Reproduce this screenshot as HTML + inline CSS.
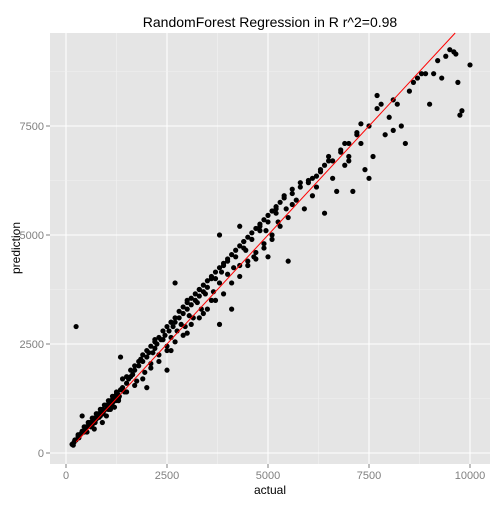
<!DOCTYPE html>
<html><head><meta charset="utf-8"><style>
body{margin:0;background:#fff;}
svg text{font-family:"Liberation Sans",sans-serif;}
</style></head><body>
<svg id="chart" width="504" height="504">
<rect x="0" y="0" width="504" height="504" fill="#fff"/>
<rect x="50" y="33" width="440" height="431" fill="#E5E5E5"/>
<g id="grid"></g>
<g id="ticks"></g>
<g id="pts"></g>
<g id="line"></g>
<text x="270" y="27" text-anchor="middle" font-size="14" fill="#000">RandomForest Regression in R r^2=0.98</text>
<text x="270" y="494" text-anchor="middle" font-size="12" fill="#000">actual</text>
<text transform="translate(20,248) rotate(-90)" text-anchor="middle" font-size="12" fill="#000">prediction</text>
</svg>
<script>
const xTicks=[0,2500,5000,7500,10000];
const yTicks=[0,2500,5000,7500];
const actual=[150,200,250,300,350,400,450,500,550,600,650,700,750,800,850,900,950,1000,1050,1100,1150,1200,1250,1300,1350,1400,1450,1500,250,400,700,900,1000,1200,180,220,320,380,480,520,580,620,680,720,780,820,880,920,1020,1080,1130,1180,1230,1280,1320,
1600,1700,1750,1800,1900,1950,2000,2050,2100,2200,2250,2300,2400,2450,2500,2550,2600,2700,2750,2800,2900,2950,3000,3100,3150,3200,3300,3350,3400,3500,3600,3700,3800,3900,4000,1350,2000,2500,3800,4100,2700,1650,1850,2150,2350,2650,2850,3050,3250,3450,3650,3850,1550,2600,3000,3400,
4200,4300,4400,4500,4600,4700,4800,4900,5000,5100,5200,5300,5400,5500,5600,5700,5800,5000,5500,6000,4300,3800,4150,4450,4650,4950,5250,5450,5900,
6100,6200,6300,6400,6500,6600,6700,6800,7000,7200,7300,7400,7600,7500,7700,7800,7900,8000,8100,8200,8300,8400,8700,8800,9000,9200,9300,9600,9650,9700,9750,9800,10000,9100,7000,7500,7100,8500,8600,6900,6300,
300,450,550,650,750,850,950,1050,1150,1250,1400,1500,1600,1700,1800,1900,2000,2100,2200,2300,2400,2500,2600,2700,2800,2900,3000,3100,3200,3300,3400,3500,3600,3700,3800,3900,4000,4100,4200,4300,4400,4500,4600,4700,4800,4900,5000,5100,5200,5300,5400,5600,5800,6000,6200,6400,6600,6800,7000,7200,
1100,1300,1500,1700,1900,2100,2300,2500,2700,2900,3100,3300,3500,3700,3900,4100,4300,4500,4700,4900,5100,2200,2600,3000,3300,3600,4000,4400,4800,5200,5600,6100,6500,6900,7300,7700,8100,8900,9400,9500];
const prediction=[200,250,300,380,420,500,480,600,620,700,650,800,780,900,850,1000,980,1100,1000,1200,1150,1300,1350,1250,1450,1500,1400,1600,2900,850,550,700,850,1050,180,300,350,450,550,480,650,600,750,700,850,820,950,900,1050,1150,1100,1250,1200,1350,1300,
1750,1900,1650,2000,2100,1850,2200,2300,2050,2400,2500,2250,2600,2700,2450,2800,2650,3000,2800,3100,3200,2900,3300,3400,3100,3500,3600,3300,3700,3800,3500,4000,3900,4300,4100,2200,1500,1900,2950,3300,3900,1800,2150,2300,2600,2900,2950,3150,3450,3650,3700,4150,1700,2350,2750,3200,
4500,4300,4700,4400,4900,4600,5100,4800,5300,5000,5500,5200,5900,5400,5700,5800,6200,4500,4400,6200,5200,5000,4250,4650,4500,5100,5300,5600,5600,
5900,6100,6500,5500,6800,6300,6000,6900,6700,7300,7100,6500,6800,7500,8200,8000,7300,7700,7400,8000,7500,7100,8600,8700,8000,9000,8600,9200,9150,8500,7750,7850,8900,8700,6800,6300,6000,8300,8500,6600,6450,
420,600,700,800,900,1000,1100,1200,1300,1400,1700,1750,1900,2000,2100,2250,2350,2450,2550,2650,2800,2900,3000,3100,3250,3350,3450,3550,3650,3750,3850,3950,4050,4150,4250,4350,4450,4550,4650,4750,4850,4950,5050,5150,5250,5350,5450,5550,5650,5750,5850,6050,6100,6250,6350,6600,6700,6950,7100,7350,
1000,1200,1400,1550,1700,1950,2100,2350,2550,2700,2950,3100,3300,3500,3650,3900,4050,4300,4450,4700,4900,2600,3000,3500,3750,4000,4400,4850,5200,5600,5950,6300,6700,7100,7550,7900,8100,8700,9100,9250];
const X0=66,XS=(470-66)/10000,Y0=453,YS=(453-344)/2500;
const sx=v=>X0+v*XS, sy=v=>Y0-v*YS;
const NS="http://www.w3.org/2000/svg";
function mk(t,a,p){const e=document.createElementNS(NS,t);for(const k in a)e.setAttribute(k,a[k]);p.appendChild(e);return e;}
const grid=document.getElementById('grid'),ticks=document.getElementById('ticks');
for(let i=0;i<xTicks.length;i++){
  const v=xTicks[i];
  if(i>0){const m=(xTicks[i]+xTicks[i-1])/2;const g=mk('line',{x1:sx(m),x2:sx(m),y1:33,y2:464,stroke:'#F2F2F2','stroke-width':0.6},grid);

}
  const l=mk('line',{x1:sx(v),x2:sx(v),y1:33,y2:464,stroke:'#fff','stroke-width':1.1},grid);
  
  
  mk('line',{x1:sx(v),x2:sx(v),y1:464,y2:468,stroke:'#7F7F7F'},ticks);
  const t=mk('text',{x:sx(v),y:479,'text-anchor':'middle','font-size':11,fill:'#7F7F7F'},ticks);t.textContent=v;
  
  
}
for(let i=0;i<yTicks.length;i++){
  const v=yTicks[i];
  const m=v+1250;{const g=mk('line',{x1:50,x2:490,y1:sy(m),y2:sy(m),stroke:'#F2F2F2','stroke-width':0.6},grid);

}
  const l=mk('line',{x1:50,x2:490,y1:sy(v),y2:sy(v),stroke:'#fff','stroke-width':1.1},grid);
  
  
  mk('line',{x1:46,x2:50,y1:sy(v),y2:sy(v),stroke:'#7F7F7F'},ticks);
  const t=mk('text',{x:44,y:sy(v)+4,'text-anchor':'end','font-size':11,fill:'#7F7F7F'},ticks);t.textContent=v;
  
  
}
const pts=document.getElementById('pts');
for(let i=0;i<actual.length;i++){
  const c=mk('circle',{cx:sx(actual[i]),cy:sy(prediction[i]),r:2.6,fill:'#000'},pts);
  
  
}
const lo=-400,hi=10500;
const ly0=Math.max(lo,(Y0-464)/-YS), ly1=Math.min(hi,(Y0-33)/YS);
const rl=mk('line',{x1:sx(ly0),y1:sy(ly0),x2:sx(ly1),y2:sy(ly1),stroke:'#FF0000','stroke-width':1},document.getElementById('line'));


</script>
</body></html>
